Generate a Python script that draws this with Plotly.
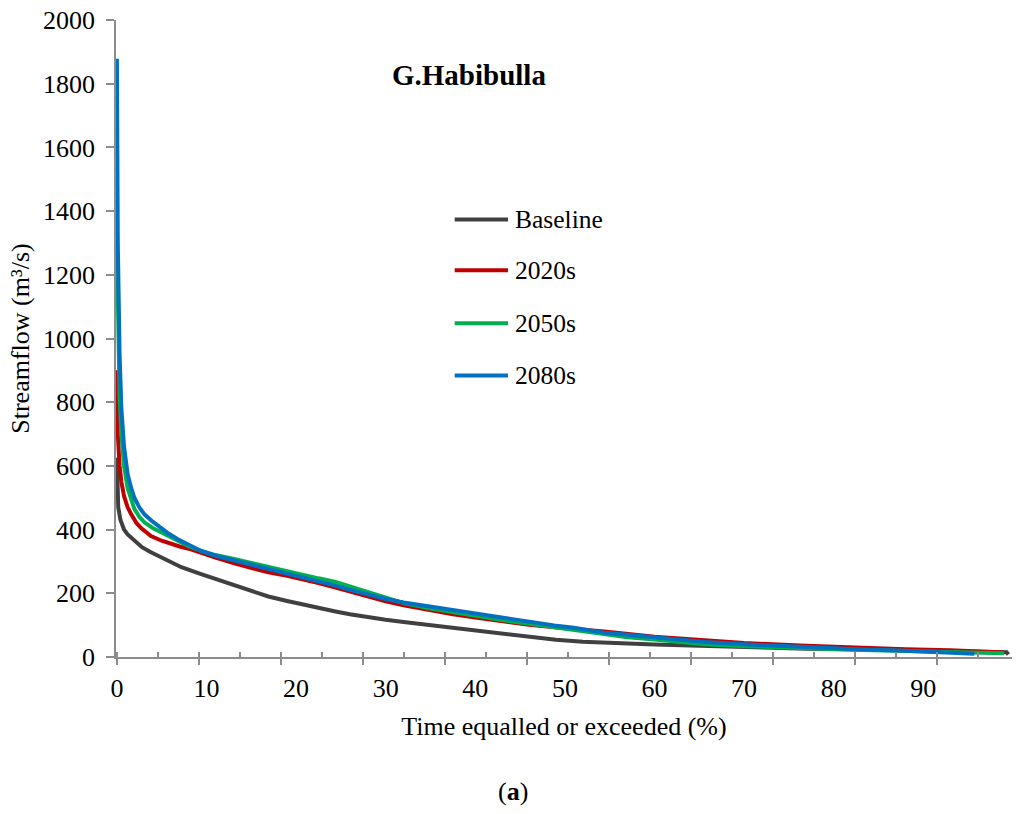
import plotly.graph_objects as go

# Flow duration curves (percent of time, streamflow m3/s)
series_names = ["Baseline", "2020s", "2050s", "2080s"]
series_colors = ["#404040", "#C00000", "#00B050", "#0070C0"]

baseline_pct = [0, 0.15, 0.4, 0.8, 1.2, 1.95, 2.8, 3.8, 4.8, 5.7, 7.2, 9.4, 11, 13.2, 15, 16.9, 19, 20.7,
                22.5, 24.4, 26, 28.2, 30, 32, 35, 37.5, 40, 43, 46, 49, 52, 55, 60, 65, 70, 77, 82, 88, 93,
                97, 98.8, 99.3, 99.5]
baseline_flow = [626, 470, 430, 400, 385, 365, 345, 329, 315, 303, 282, 260, 245, 222, 205, 190, 176, 165,
                 155, 143, 134, 124, 117, 110, 100, 92, 84, 72, 62, 54, 48, 44, 39, 35, 30, 26, 24, 21, 20,
                 19, 18, 15, 8]

r2020_pct = [0, 0.1, 0.3, 0.5, 0.8, 1.2, 1.6, 2.2, 2.7, 3.8, 5, 5.7, 7, 8, 9.4, 11, 13.2, 15, 16.9, 19,
             20.7, 22.5, 24.4, 26, 28.2, 30, 32, 35, 37.5, 40, 43, 46, 50, 54.4, 60, 65.6, 70, 76.9, 82,
             88, 93, 97, 99]
r2020_flow = [900, 700, 600, 550, 505, 470, 448, 420, 405, 380, 365, 358, 347, 340, 326, 312, 293, 279,
              266, 255, 245, 232, 218, 205, 188, 175, 162, 146, 134, 124, 112, 101, 90, 80, 64, 52, 44,
              35, 29, 24, 21, 17, 14]

r2050_pct = [0, 0.1, 0.3, 0.5, 0.8, 1.2, 1.6, 1.95, 2.5, 3.1, 4, 4.9, 5.8, 6.8, 8, 9.4, 11, 13.2, 15,
             16.9, 19, 20.7, 22.5, 24.4, 26, 28.2, 30, 32, 35, 37.5, 40, 43, 46, 48.8, 51, 54.4, 57, 60,
             65.6, 70, 76.9, 82, 88, 93, 97, 99]
r2050_flow = [1300, 1050, 820, 700, 600, 530, 490, 465, 440, 422, 405, 392, 378, 363, 348, 333, 320, 307,
              295, 282, 268, 257, 247, 236, 222, 201, 185, 169, 152, 140, 130, 116, 104, 93, 84, 70, 62,
              55, 40, 34, 27, 23, 19, 16, 14, 12]

r2080_pct = [0, 0.1, 0.3, 0.5, 0.8, 1.2, 1.6, 1.95, 2.5, 3.1, 4, 4.9, 5.8, 6.8, 8, 9.4, 11, 13.2, 15,
             16.9, 19, 20.7, 22.5, 24.4, 26, 28.2, 30, 32, 35, 37.5, 40, 43, 46, 48.8, 51, 54.4, 57, 60,
             65.6, 70, 76.9, 82, 88, 92, 95.7]
r2080_flow = [1878, 1300, 950, 780, 660, 574, 530, 500, 470, 447, 425, 405, 387, 370, 352, 333, 318, 303,
              290, 276, 262, 250, 237, 224, 211, 194, 182, 171, 158, 146, 136, 122, 110, 99, 92, 76, 70,
              62, 47, 40, 30, 25, 20, 16, 10]

x_labels = [0, 10, 20, 30, 40, 50, 60, 70, 80, 90]
y_ticks = list(range(0, 2001, 200))

serif = "Liberation Serif, Times New Roman, serif"
axis_grey = "#8C8C8C"
x_range = [-0.1, 99.9]

fig = go.Figure()
all_pct = [baseline_pct, r2020_pct, r2050_pct, r2080_pct]
all_flow = [baseline_flow, r2020_flow, r2050_flow, r2080_flow]
for name, col, xs, ys in zip(series_names, series_colors, all_pct, all_flow):
    fig.add_trace(go.Scatter(x=xs, y=ys, mode="lines", name=name, showlegend=False,
                             line=dict(color=col, width=4)))

# empty trace so the overlay axis that carries the tick marks is drawn
fig.add_trace(go.Scatter(x=[], y=[], xaxis="x2", showlegend=False, hoverinfo="skip"))

# legend drawn by hand so the spacing matches the original
legend_y = [0.687, 0.607, 0.524, 0.442]
for name, col, ly in zip(series_names, series_colors, legend_y):
    fig.add_shape(type="line", xref="paper", yref="paper", x0=0.378, x1=0.4375, y0=ly, y1=ly,
                  line=dict(color=col, width=4))
    fig.add_annotation(text=name, xref="paper", yref="paper", x=0.443, y=ly, xanchor="left",
                       yanchor="middle", showarrow=False, font=dict(family=serif, size=25.5, color="black"))

fig.add_annotation(text="<b>G.Habibulla</b>", xref="paper", yref="paper", x=0.394, y=0.914,
                   xanchor="center", yanchor="middle", showarrow=False,
                   font=dict(family=serif, size=29, color="black"))
fig.add_annotation(text="(<b>a</b>)", xref="paper", yref="paper", x=0.443, y=-0.211,
                   xanchor="center", yanchor="middle", showarrow=False,
                   font=dict(family=serif, size=26, color="black"))

fig.update_layout(
    width=1024, height=814,
    margin=dict(l=116, r=12, t=20, b=157),
    plot_bgcolor="white", paper_bgcolor="white",
    font=dict(family=serif, size=26, color="black"),
    xaxis=dict(range=x_range, tickvals=x_labels, ticks="", ticklen=0, showline=True, linecolor=axis_grey,
               linewidth=1.5, showgrid=False, zeroline=False, ticklabelstandoff=7, automargin=False,
               title=dict(text="Time equalled or exceeded (%)", standoff=15, font=dict(size=26))),
    xaxis2=dict(range=x_range, overlaying="x", anchor="y", side="bottom", showticklabels=False,
                showgrid=False, zeroline=False, showline=False, tick0=0, dtick=9.15, ticks="outside",
                ticklen=7, tickwidth=1.5, tickcolor=axis_grey, automargin=False,
                minor=dict(ticks="inside", dtick=4.575, ticklen=5, tickcolor=axis_grey, showgrid=False)),
    yaxis=dict(range=[0, 2000], tickvals=y_ticks, ticks="outside", ticklen=8, tickwidth=1.5,
               tickcolor=axis_grey, showline=True, linecolor=axis_grey, linewidth=1.5, showgrid=False,
               zeroline=False, ticklabelstandoff=6, automargin=False, ticklabeloverflow="allow",
               title=dict(text="Streamflow (m³/s)", standoff=6, font=dict(size=26))),
)

# drop the browser's default body margin so the figure fills the window exactly
fig.write_html("out.html", config={"displayModeBar": False},
               post_script="document.body.style.margin='0';")
